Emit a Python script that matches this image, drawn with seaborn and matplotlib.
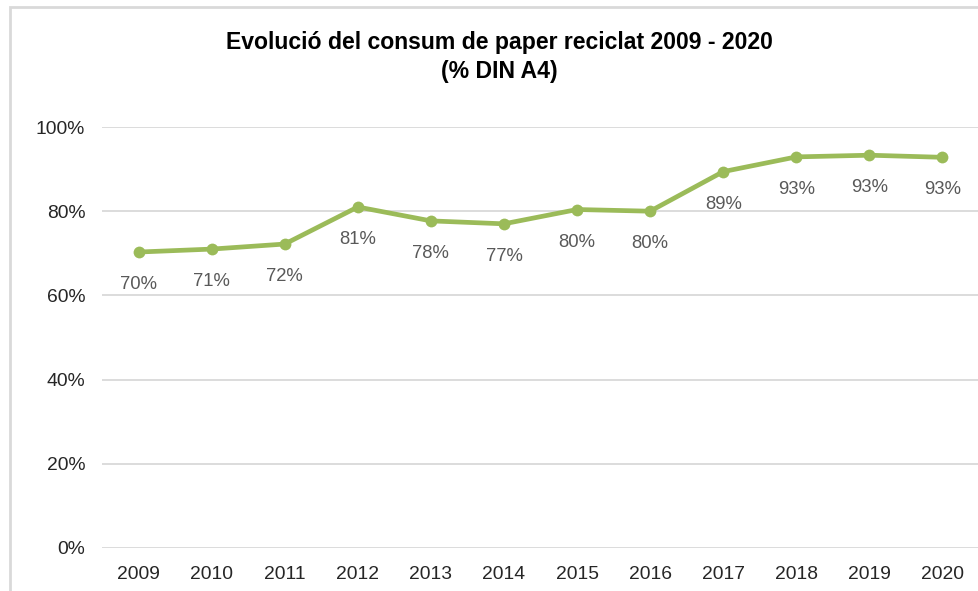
import matplotlib
matplotlib.use("Agg")
import matplotlib.pyplot as plt
import seaborn as sns
import pandas as pd
from matplotlib.patches import Rectangle

years = [2009, 2010, 2011, 2012, 2013, 2014, 2015, 2016, 2017, 2018, 2019, 2020]
values = [70.3, 71.0, 72.2, 81.0, 77.7, 77.0, 80.4, 80.0, 89.4, 92.9, 93.3, 92.8]
y_ticks = [0, 20, 40, 60, 80, 100]
title = "Evolució del consum de paper reciclat 2009 - 2020\n(% DIN A4)"

sns.set_theme(style="white")
plt.rcParams['font.family'] = ['Liberation Sans', 'DejaVu Sans']

W, H = 979, 591
fig = plt.figure(figsize=(W / 100, H / 100), dpi=100)
ax = fig.add_axes([102 / W, 1 - 548 / H, 877 / W, (548 - 127) / H])

# chart frame
fig.patches.append(Rectangle((10 / W, -0.1), 1.2, 1 - 7 / H + 0.1, transform=fig.transFigure,
                             fill=False, edgecolor='#D9D9D9', linewidth=2.0, zorder=0))

df = pd.DataFrame({"year": years, "value": values})
green = "#9BBB59"
sns.lineplot(data=df, x="year", y="value", ax=ax, color=green, linewidth=3.4,
             marker="o", markersize=8.5, markeredgewidth=0, zorder=3)

for x, v in zip(years, values):
    ax.annotate(f"{round(v)}%", (x, v), xytext=(0, -23.5), textcoords="offset points",
                ha="center", va="center", fontsize=13.3, color="#595959")

ax.set_xlim(years[0] - 0.5, years[-1] + 0.5)
ax.set_ylim(0, 100)
ax.set_xticks(years)
ax.set_xticklabels([str(y) for y in years])
ax.set_yticks(y_ticks)
ax.set_yticklabels([f"{t}%" for t in y_ticks])
ax.set_xlabel("")
ax.set_ylabel("")
ax.grid(axis="y", color="#D9D9D9", linewidth=1.3)
ax.set_axisbelow(True)
for s in ax.spines.values():
    s.set_visible(False)
ax.tick_params(axis="both", length=0, labelsize=13.9, colors="#262626")
ax.tick_params(axis="y", pad=12)
ax.tick_params(axis="x", pad=13)

fig.text(499 / W, 1 - 57 / H, title, ha="center", va="center", fontsize=16.6,
         fontweight="bold", color="black", linespacing=1.28)

fig.savefig("out.png", dpi=100, facecolor="white")
